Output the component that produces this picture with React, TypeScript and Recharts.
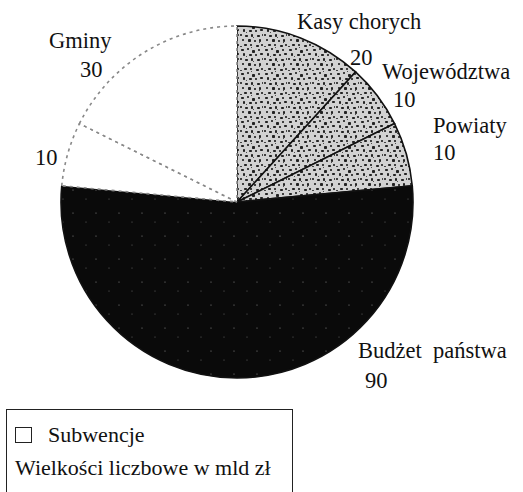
import React from 'react';
import { PieChart, Pie, Cell, Legend } from 'recharts';

// Wielkości liczbowe w mld zł
const sliceNames = ['Kasy chorych', 'Województwa', 'Powiaty', 'Budżet państwa', 'Subwencje', 'Gminy'];
const sliceValues = [20, 10, 10, 90, 10, 30];
const sliceTitles = ['Kasy chorych', 'Województwa', 'Powiaty', 'Budżet  państwa', '', 'Gminy'];

const data = sliceNames.map((name, i) => ({ name, value: sliceValues[i], title: sliceTitles[i] }));

const FONT = 'Liberation Serif, Times New Roman, DejaVu Serif, serif';

// fill / stroke per slice
const fills = ['url(#stipple)', 'url(#stipple)', 'url(#stipple)', 'url(#dark)', '#ffffff', '#ffffff'];
const strokes = ['#111', '#111', '#111', '#111', '#888', '#888'];
const dashes = ['', '', '', '', '3 4', '3 4'];

// label offsets from the pie centre (title baseline, value baseline, left x)
const labelPos: Record<string, { dx: number; ty: number; vdx: number; vy: number }> = {
  'Kasy chorych': { dx: 60, ty: -173, vdx: 113, vy: -137 },
  'Województwa': { dx: 145, ty: -123, vdx: 156, vy: -95 },
  'Powiaty': { dx: 196, ty: -69, vdx: 196, vy: -42 },
  'Budżet państwa': { dx: 121, ty: 156, vdx: 128, vy: 186 },
  'Subwencje': { dx: -202, ty: 0, vdx: -202, vy: -37 },
  'Gminy': { dx: -188, ty: -154, vdx: -157, vy: -125 },
};

// stipple blobs for the grey texture tile (x, y, w, h)
const blobs = [
  [1, 1, 3, 2], [7, 0, 2, 2], [12, 2, 3, 3], [18, 1, 2, 2], [3, 5, 2, 3], [9, 6, 3, 2],
  [15, 6, 2, 2], [20, 5, 3, 2], [0, 10, 2, 2], [5, 11, 3, 2], [11, 10, 2, 3], [17, 11, 3, 2],
  [22, 10, 1, 2], [2, 15, 2, 2], [8, 15, 3, 3], [14, 16, 2, 2], [19, 15, 2, 3], [4, 20, 3, 2],
  [10, 20, 2, 2], [16, 21, 3, 2], [21, 20, 2, 2], [0, 22, 2, 1], [13, 13, 1, 1], [6, 8, 1, 1],
  [19, 18, 1, 1], [11, 23, 1, 1],
];

const renderLabel = (props: any) => {
  const { cx, cy, name, value, payload } = props;
  const pos = labelPos[name];
  if (!pos) return null;
  const st = { fontFamily: FONT, fontSize: 22.5, fill: '#111' };
  return (
    <g>
      {payload.title ? (
        <text x={cx + pos.dx} y={cy + pos.ty} textAnchor="start" style={{ ...st, whiteSpace: 'pre' }}>
          {payload.title}
        </text>
      ) : null}
      <text x={cx + pos.vdx} y={cy + pos.vy} textAnchor="start" style={st}>
        {value}
      </text>
    </g>
  );
};

const LegendBox = () => (
  <div
    style={{
      border: '1.5px solid #222',
      width: 287,
      height: 90,
      boxSizing: 'border-box',
      fontFamily: FONT,
      fontSize: 22,
      color: '#111',
      padding: '12px 0 0 8px',
      background: '#fff',
    }}
  >
    <div style={{ display: 'flex', alignItems: 'center', height: 26 }}>
      <span style={{ display: 'inline-block', width: 15, height: 14, border: '1.5px solid #222', marginRight: 16 }} />
      Subwencje
    </div>
    <div style={{ marginTop: 7 }}>Wielkości liczbowe w mld zł</div>
  </div>
);

export default function App() {
  return (
    <div style={{ position: 'absolute', left: 0, top: 0, width: 523, height: 492, background: '#fff', overflow: 'hidden' }}>
      <PieChart width={523} height={492} margin={{ top: 0, right: 0, bottom: 0, left: 0 }}>
        <defs>
          <pattern id="stipple" width="24" height="24" patternUnits="userSpaceOnUse">
            <rect width="24" height="24" fill="#d2d2d2" />
            {blobs.map(([x, y, w, h], i) => (
              <rect key={i} x={x} y={y} width={w} height={h} rx={0.8} fill="#222" />
            ))}
          </pattern>
          <pattern id="dark" width="23" height="23" patternUnits="userSpaceOnUse">
            <rect width="23" height="23" fill="#0a0a0a" />
            <circle cx="4" cy="6" r="0.6" fill="#888" />
            <circle cx="17" cy="15" r="0.5" fill="#777" />
          </pattern>
        </defs>
        <Pie
          data={data}
          dataKey="value"
          nameKey="name"
          cx={237}
          cy={202}
          outerRadius={176}
          startAngle={90}
          endAngle={-270}
          labelLine={false}
          label={renderLabel}
          isAnimationActive={false}
        >
          {data.map((d, i) => (
            <Cell key={d.name} fill={fills[i]} stroke={strokes[i]} strokeWidth={1.6} strokeDasharray={dashes[i]} />
          ))}
        </Pie>
        <Legend
          content={() => <LegendBox />}
          wrapperStyle={{ position: 'absolute', left: 6, top: 409, width: 'auto', bottom: 'auto' }}
        />
      </PieChart>
    </div>
  );
}
